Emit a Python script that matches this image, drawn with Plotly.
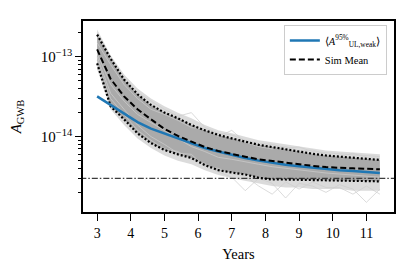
import plotly.graph_objects as go

# ---- data (values in units of 1e-15) ----
years = [3.0, 3.4, 3.8, 4.2, 4.6, 5.0, 5.4, 5.8, 6.2, 6.6, 7.0, 7.4, 7.8, 8.2, 8.6, 9.0, 9.4, 9.8, 10.2, 10.6, 11.0, 11.4]
ul_weak = [32, 25, 19.5, 15.2, 12.6, 11.0, 9.6, 8.3, 7.2, 6.5, 5.9, 5.4, 5.0, 4.7, 4.45, 4.25, 4.08, 3.92, 3.8, 3.7, 3.6, 3.5]
sim_mean = [124, 53, 32, 22, 16.5, 12.5, 10.2, 8.6, 7.4, 6.6, 6.05, 5.6, 5.2, 4.95, 4.7, 4.45, 4.3, 4.15, 4.05, 4.0, 3.95, 3.9]
sim_upper = [190, 95, 52, 34, 25, 20, 17, 14, 12, 10.5, 9.5, 8.7, 7.9, 7.4, 6.9, 6.5, 6.1, 5.8, 5.6, 5.4, 5.2, 5.1]
sim_lower = [83, 24, 16.5, 11, 8.3, 6.8, 6.0, 5.4, 4.4, 3.8, 3.55, 3.35, 3.05, 2.9, 2.9, 2.88, 2.85, 2.85, 2.85, 2.82, 2.8, 2.75]
sim_max = [220, 105, 60, 40, 30, 24, 20, 17, 14, 12, 11, 10, 9, 8.5, 8, 7.5, 7, 6.7, 6.5, 6.3, 6.2, 6.0]
sim_min = [70, 22, 14, 9.5, 7.2, 5.8, 5.0, 4.5, 3.8, 3.3, 3.0, 2.8, 2.6, 2.4, 2.3, 2.3, 2.2, 2.2, 2.2, 2.1, 2.1, 2.1]
sim_a = [200, 100, 55, 36, 28, 22, 18, 20, 13, 11, 10.5, 9, 8.2, 8, 7.2, 7.4, 6.5, 6.3, 6, 5.9, 5.8, 5.6]
sim_b = [150, 80, 45, 30, 22, 19, 16, 13, 12.5, 10, 12, 8.5, 7.5, 7, 7.5, 6.6, 6.8, 6, 5.6, 6.2, 5.5, 5.3]
sim_c = [90, 30, 19, 12, 9, 7, 6.5, 5.2, 4.6, 3.6, 3.1, 2.1, 3.0, 2.6, 1.7, 2.6, 2.4, 2.0, 2.5, 2.2, 1.5, 2.2]
sim_d = [100, 35, 22, 14, 10, 8, 6.2, 6.0, 4.2, 4.0, 3.4, 3.2, 2.4, 1.9, 2.7, 2.2, 2.7, 2.3, 2.3, 1.9, 2.4, 1.9]
sim_e = [110, 45, 28, 19, 15, 12, 9.5, 7.5, 6.5, 5.5, 5.2, 4.8, 4.5, 4.2, 4.0, 3.8, 3.6, 3.5, 3.4, 3.3, 3.2, 3.1]
threshold = 3.0

scale = 1e-15
def sc(v):
    return [x * scale for x in v]

fig = go.Figure()

# outer envelope of simulations
fig.add_trace(go.Scatter(x=years, y=sc(sim_max), mode="lines", line=dict(width=0),
                         showlegend=False, hoverinfo="skip"))
fig.add_trace(go.Scatter(x=years, y=sc(sim_min), mode="lines", line=dict(width=0),
                         fill="tonexty", fillcolor="rgba(210,210,210,0.8)",
                         showlegend=False, hoverinfo="skip"))
# inner band
fig.add_trace(go.Scatter(x=years, y=sc(sim_upper), mode="lines", line=dict(width=0),
                         showlegend=False, hoverinfo="skip"))
fig.add_trace(go.Scatter(x=years, y=sc(sim_lower), mode="lines", line=dict(width=0),
                         fill="tonexty", fillcolor="rgba(150,150,150,0.7)",
                         showlegend=False, hoverinfo="skip"))
# a few individual simulations
for s in [sim_a, sim_b, sim_c, sim_d, sim_e]:
    fig.add_trace(go.Scatter(x=years, y=sc(s), mode="lines",
                             line=dict(color="rgba(205,205,205,0.9)", width=0.8),
                             showlegend=False, hoverinfo="skip"))

# threshold line
fig.add_trace(go.Scatter(x=[2.5, 12.0], y=[threshold * scale] * 2, mode="lines",
                         line=dict(color="#3c3c3c", width=1.4, dash="6px,2px,1.5px,2px"),
                         showlegend=False, hoverinfo="skip"))

# dotted bounds
for s in [sim_upper, sim_lower]:
    fig.add_trace(go.Scatter(x=years, y=sc(s), mode="lines",
                             line=dict(color="black", width=2.2, dash="2px,2px"),
                             showlegend=False, hoverinfo="skip"))

fig.add_trace(go.Scatter(x=years, y=sc(ul_weak), mode="lines",
                         line=dict(color="#1f77b4", width=2.5),
                         name="⟨<i>A</i><sup>95%</sup><sub>UL,weak</sub>⟩"))
fig.add_trace(go.Scatter(x=years, y=sc(sim_mean), mode="lines",
                         line=dict(color="black", width=2, dash="6px,3px"),
                         name="Sim Mean"))

font_family = "Liberation Serif"
minor_vals = [k * 1e-15 for k in range(2, 10)] + [k * 1e-14 for k in range(2, 10)] + [2e-13]

# the page body has an 8px default margin; compensate so the plot area lands at x 83-394, y 21-212
fig.update_layout(
    width=415, height=272,
    margin=dict(l=75, r=29, t=13, b=68),
    paper_bgcolor="white", plot_bgcolor="white",
    font=dict(family=font_family, size=13, color="black"),
    showlegend=True,
    legend=dict(x=0.977, y=0.979, xanchor="right", yanchor="top",
                bgcolor="white", bordercolor="#cccccc", borderwidth=1,
                font=dict(size=10.5, family=font_family, color="black"),
                traceorder="normal", tracegroupgap=0, itemwidth=30),
    xaxis=dict(range=[2.58, 11.82], tickvals=[3, 4, 5, 6, 7, 8, 9, 10, 11],
               ticks="outside", ticklen=7, tickwidth=1, tickcolor="black",
               showline=True, linecolor="black", linewidth=1.6, mirror=True,
               showgrid=False, zeroline=False, automargin=False,
               tickfont=dict(size=14, family=font_family, color="black"),
               title=dict(text="Years", font=dict(size=14.5, family=font_family, color="black"), standoff=9)),
    yaxis=dict(type="log", range=[-14.945, -12.55],
               tickvals=[1e-14, 1e-13], ticktext=["10<sup>−14</sup>", "10<sup>−13</sup>"],
               ticks="outside", ticklen=6, tickwidth=1, tickcolor="black",
               minor=dict(tickvals=minor_vals, ticks="outside", ticklen=3, tickwidth=0.8, tickcolor="black"),
               showline=True, linecolor="black", linewidth=1.6, mirror=True,
               showgrid=False, zeroline=False, automargin=False,
               tickfont=dict(size=15, family=font_family, color="black"),
               title=dict(text="<i>A</i><sub>GWB</sub>", font=dict(size=15, family=font_family, color="black"), standoff=16)),
)

fig.write_html("out.html")
